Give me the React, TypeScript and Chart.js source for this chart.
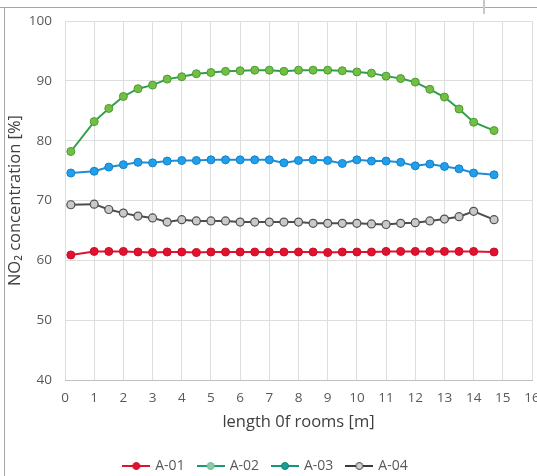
import React, { useEffect, useRef } from "react";
import { Chart, registerables } from "chart.js";

Chart.register(...registerables);

const xPositions = [0.2, 1, 1.5, 2, 2.5, 3, 3.5, 4, 4.5, 5, 5.5, 6, 6.5, 7, 7.5, 8, 8.5, 9, 9.5, 10, 10.5, 11, 11.5, 12, 12.5, 13, 13.5, 14, 14.7];
const a01 = [60.9, 61.5, 61.5, 61.5, 61.4, 61.3, 61.4, 61.4, 61.3, 61.4, 61.4, 61.4, 61.4, 61.4, 61.4, 61.4, 61.4, 61.3, 61.4, 61.4, 61.4, 61.5, 61.5, 61.5, 61.5, 61.5, 61.5, 61.5, 61.4];
const a02 = [78.2, 83.2, 85.4, 87.4, 88.7, 89.3, 90.3, 90.7, 91.2, 91.4, 91.6, 91.7, 91.8, 91.8, 91.6, 91.8, 91.8, 91.8, 91.7, 91.5, 91.3, 90.8, 90.4, 89.8, 88.6, 87.3, 85.3, 83.1, 81.7];
const a03 = [74.6, 74.9, 75.6, 76.0, 76.4, 76.3, 76.6, 76.7, 76.7, 76.8, 76.8, 76.8, 76.8, 76.8, 76.3, 76.7, 76.8, 76.7, 76.2, 76.8, 76.6, 76.6, 76.4, 75.8, 76.1, 75.7, 75.3, 74.6, 74.3];
const a04 = [69.3, 69.4, 68.5, 67.9, 67.4, 67.1, 66.4, 66.8, 66.6, 66.6, 66.6, 66.4, 66.4, 66.4, 66.4, 66.4, 66.2, 66.2, 66.2, 66.2, 66.1, 66.0, 66.2, 66.3, 66.6, 66.9, 67.3, 68.2, 66.8];

const seriesNames = ["A-01", "A-02", "A-03", "A-04"];
const xTitle = "length 0f rooms [m]";
const yTitle = "NO\u2082 concentration [%]";

const FONT = "'Open Sans', 'Liberation Sans', sans-serif";

function makeLegendIcon(line: string, fill: string, border: string) {
  const c = document.createElement("canvas");
  c.width = 28;
  c.height = 10;
  const ctx = c.getContext("2d")!;
  ctx.strokeStyle = line;
  ctx.lineWidth = 2;
  ctx.beginPath();
  ctx.moveTo(0, 5);
  ctx.lineTo(28, 5);
  ctx.stroke();
  ctx.beginPath();
  ctx.arc(14, 5, 3.5, 0, Math.PI * 2);
  ctx.fillStyle = fill;
  ctx.fill();
  ctx.lineWidth = 1;
  ctx.strokeStyle = border;
  ctx.stroke();
  return c;
}

export default function App() {
  const ref = useRef<HTMLCanvasElement | null>(null);

  useEffect(() => {
    document.body.style.margin = "0";
    document.body.style.overflow = "hidden";
    const canvas = ref.current;
    if (!canvas) return;

    const icons = [
      makeLegendIcon("#e2122f", "#e2122f", "#c80e28"),
      makeLegendIcon("#1a9a6e", "#8ecaa6", "#6fb58e"),
      makeLegendIcon("#0f9a7a", "#18a090", "#0c7f70"),
      makeLegendIcon("#3a3a3a", "#d0d0d0", "#444444"),
    ];

    const mk = (vals: number[]) => xPositions.map((x, i) => ({ x, y: vals[i] }));

    const framePlugin = {
      id: "frame",
      beforeDraw(chart: any) {
        const ctx = chart.ctx;
        ctx.save();
        ctx.fillStyle = "#ffffff";
        ctx.fillRect(0, 0, chart.width, chart.height);
        ctx.strokeStyle = "#a6a6a6";
        ctx.lineWidth = 1;
        ctx.beginPath();
        ctx.moveTo(0, 7.5);
        ctx.lineTo(chart.width, 7.5);
        ctx.moveTo(4.5, 7);
        ctx.lineTo(4.5, chart.height);
        ctx.stroke();
        ctx.strokeStyle = "#c8c8c8";
        ctx.lineWidth = 2;
        ctx.beginPath();
        ctx.moveTo(484, 0);
        ctx.lineTo(484, 14);
        ctx.stroke();
        ctx.restore();
      },
    };

    const chart = new Chart(canvas, {
      type: "line",
      data: {
        datasets: [
          {
            label: seriesNames[0],
            data: mk(a01),
            borderColor: "#e2122f",
            backgroundColor: "#e2122f",
            pointBackgroundColor: "#e2122f",
            pointBorderColor: "#c80e28",
            borderWidth: 2,
            pointRadius: 4,
            pointBorderWidth: 1,
          },
          {
            label: seriesNames[1],
            data: mk(a02),
            borderColor: "#2f9f4a",
            backgroundColor: "#72bf44",
            pointBackgroundColor: "#72bf44",
            pointBorderColor: "#4a9c35",
            borderWidth: 2,
            pointRadius: 4,
            pointBorderWidth: 1,
          },
          {
            label: seriesNames[2],
            data: mk(a03),
            borderColor: "#1e8fd6",
            backgroundColor: "#20a0ea",
            pointBackgroundColor: "#20a0ea",
            pointBorderColor: "#1780c8",
            borderWidth: 2,
            pointRadius: 4,
            pointBorderWidth: 1,
          },
          {
            label: seriesNames[3],
            data: mk(a04),
            borderColor: "#4d4d4d",
            backgroundColor: "#c9c9c9",
            pointBackgroundColor: "#c9c9c9",
            pointBorderColor: "#505050",
            borderWidth: 2,
            pointRadius: 4,
            pointBorderWidth: 1.2,
          },
        ],
      },
      options: {
        animation: false,
        responsive: false,
        maintainAspectRatio: false,
        layout: { padding: { left: 0, top: 20, right: 28, bottom: 7 } },
        plugins: {
          tooltip: { enabled: false },
          legend: {
            position: "bottom",
            labels: {
              usePointStyle: true,
              pointStyleWidth: 24,
              padding: 14,
              color: "#595959",
              font: { family: FONT, size: 14 },
              generateLabels: (c: any) =>
                c.data.datasets.map((d: any, i: number) => ({
                  text: d.label,
                  pointStyle: icons[i],
                  fillStyle: "transparent",
                  strokeStyle: "transparent",
                  lineWidth: 0,
                  fontColor: "#595959",
                  hidden: false,
                  datasetIndex: i,
                })),
            },
          },
        },
        scales: {
          x: {
            type: "linear",
            min: 0,
            max: 16,
            afterFit: (s: any) => {
              s.height = 65;
            },
            ticks: {
              stepSize: 1,
              padding: 10,
              color: "#595959",
              font: { family: FONT, size: 13.5 },
              maxRotation: 0,
            },
            grid: { color: "#dedede", drawTicks: false, lineWidth: 1 },
            border: { color: "#bfbfbf", width: 1 },
            title: {
              display: true,
              text: xTitle,
              color: "#404040",
              font: { family: FONT, size: 16.5 },
              padding: { top: 0, bottom: 13 },
            },
          },
          y: {
            type: "linear",
            min: 40,
            max: 100,
            afterFit: (s: any) => {
              s.width = 65;
            },
            ticks: {
              stepSize: 10,
              padding: 13,
              color: "#595959",
              font: { family: FONT, size: 13.5 },
            },
            grid: { color: "#dedede", drawTicks: false, lineWidth: 1 },
            border: { display: false },
            title: {
              display: true,
              text: yTitle,
              color: "#404040",
              font: { family: FONT, size: 16.5 },
              padding: { top: 5, bottom: 0 },
            },
          },
        },
      },
      plugins: [framePlugin],
    } as any);

    return () => chart.destroy();
  }, []);

  return (
    <div style={{ position: "fixed", left: 0, top: 0, width: 560, height: 490 }}>
      <canvas ref={ref} width={560} height={490} style={{ width: 560, height: 490, display: "block" }} />
    </div>
  );
}
